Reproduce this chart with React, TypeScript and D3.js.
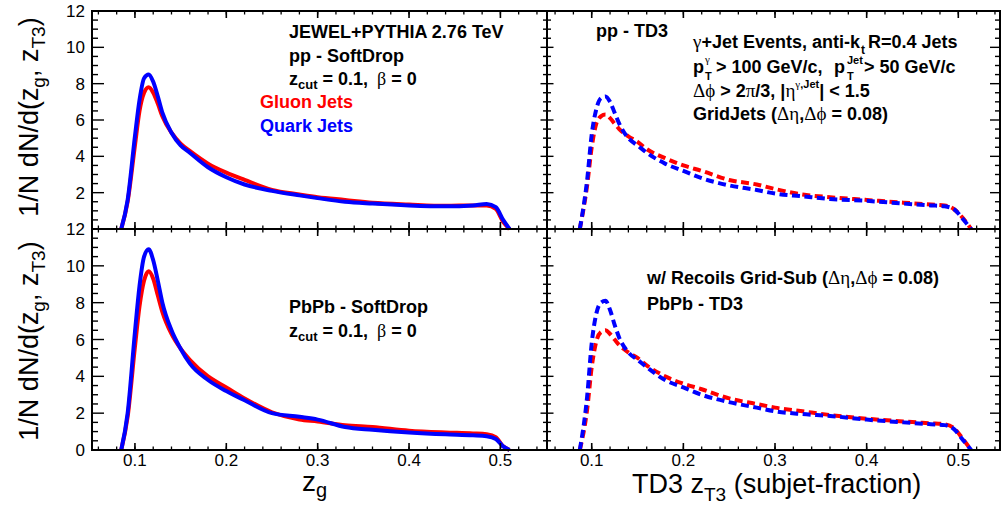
import React from "react";
import * as d3 from "d3";

// ---- data ----
const zgX = [0.085, 0.092, 0.1, 0.105, 0.11, 0.115, 0.12, 0.125, 0.13, 0.14, 0.15, 0.16, 0.18, 0.2, 0.22, 0.25, 0.28, 0.3, 0.33, 0.36, 0.4, 0.44, 0.47, 0.485, 0.495, 0.503, 0.51];
const ppSDGluon = [0, 1.5, 4.6, 6.5, 7.5, 7.8, 7.5, 6.9, 6.2, 5.3, 4.7, 4.3, 3.6, 3.1, 2.7, 2.15, 1.9, 1.75, 1.6, 1.45, 1.35, 1.28, 1.3, 1.3, 1.1, 0.4, 0];
const ppSDQuark = [0, 1.6, 5.1, 7.1, 8.3, 8.5, 8.1, 7.3, 6.4, 5.3, 4.6, 4.2, 3.4, 2.85, 2.45, 2.1, 1.85, 1.7, 1.5, 1.4, 1.3, 1.25, 1.3, 1.38, 1.2, 0.5, 0];
const pbSDGluon = [0, 1.8, 5.6, 7.8, 9.2, 9.7, 9.3, 8.4, 7.5, 6.3, 5.5, 4.9, 4.0, 3.4, 2.8, 2.05, 1.65, 1.55, 1.35, 1.25, 1.05, 0.95, 0.9, 0.85, 0.7, 0.2, 0];
const pbSDQuark = [0, 2.0, 6.4, 8.9, 10.5, 10.9, 10.3, 9.2, 8.0, 6.5, 5.5, 4.7, 3.8, 3.2, 2.7, 2.0, 1.8, 1.65, 1.25, 1.1, 0.95, 0.85, 0.8, 0.75, 0.6, 0.2, 0];

const td3X = [0.087, 0.095, 0.1, 0.105, 0.11, 0.115, 0.12, 0.125, 0.13, 0.14, 0.15, 0.16, 0.18, 0.2, 0.22, 0.25, 0.28, 0.3, 0.33, 0.36, 0.4, 0.44, 0.47, 0.485, 0.495, 0.505, 0.514];
const ppTD3Gluon = [0, 2.4, 4.5, 5.8, 6.2, 6.3, 6.1, 5.8, 5.5, 5.1, 4.8, 4.4, 3.9, 3.5, 3.2, 2.7, 2.45, 2.2, 1.9, 1.75, 1.6, 1.45, 1.35, 1.3, 1.1, 0.6, 0];
const ppTD3Quark = [0, 2.7, 5.2, 6.6, 7.2, 7.3, 7.0, 6.4, 5.8, 5.0, 4.6, 4.2, 3.6, 3.2, 2.8, 2.4, 2.15, 1.95, 1.8, 1.65, 1.55, 1.4, 1.3, 1.25, 1.1, 0.55, 0];
const pbTD3Gluon = [0, 2.2, 4.5, 5.9, 6.4, 6.5, 6.3, 6.0, 5.7, 5.3, 5.0, 4.6, 4.0, 3.6, 3.3, 2.8, 2.5, 2.3, 2.1, 1.9, 1.7, 1.55, 1.45, 1.4, 1.2, 0.6, 0];
const pbTD3Quark = [0, 2.9, 5.8, 7.4, 8.0, 8.1, 7.6, 6.8, 6.1, 5.3, 4.9, 4.5, 3.8, 3.4, 3.0, 2.6, 2.3, 2.1, 1.95, 1.85, 1.65, 1.5, 1.4, 1.35, 1.15, 0.55, 0];

const xMajorTicks = [0.1, 0.2, 0.3, 0.4, 0.5];
const yMajorTicks = [0, 2, 4, 6, 8, 10, 12];

const RED = "#ff0000";
const BLUE = "#0000ff";
const FONT = "'Liberation Sans', Arial, Helvetica, sans-serif";
const SYM = "'Liberation Serif', 'DejaVu Serif', serif";

const L = 92, M = 547, R = 1000, T = 11, MID = 229, B = 450;

type Panel = {
  x0: number; x1: number; y0: number; y1: number;
  dom: [number, number]; yDom: [number, number];
  xs: number[]; red: number[]; blue: number[]; dashed: boolean;
};

const panels: Panel[] = [
  { x0: L, x1: M, y0: T, y1: MID, dom: [0.053, 0.551], yDom: [0, 12], xs: zgX, red: ppSDGluon, blue: ppSDQuark, dashed: false },
  { x0: M, x1: R, y0: T, y1: MID, dom: [0.0512, 0.5455], yDom: [0, 12], xs: td3X, red: ppTD3Gluon, blue: ppTD3Quark, dashed: true },
  { x0: L, x1: M, y0: MID, y1: B, dom: [0.053, 0.551], yDom: [0, 12], xs: zgX, red: pbSDGluon, blue: pbSDQuark, dashed: false },
  { x0: M, x1: R, y0: MID, y1: B, dom: [0.0512, 0.5455], yDom: [0, 12], xs: td3X, red: pbTD3Gluon, blue: pbTD3Quark, dashed: true },
];

function PanelView({ p }: { p: Panel }) {
  const x = d3.scaleLinear().domain(p.dom).range([p.x0, p.x1]);
  const y = d3.scaleLinear().domain(p.yDom).range([p.y1, p.y0]);
  const line = d3.line<[number, number]>().x(d => x(d[0])).y(d => y(d[1])).curve(d3.curveMonotoneX);
  const redPts = p.xs.map((v, i) => [v, p.red[i]] as [number, number]);
  const bluePts = p.xs.map((v, i) => [v, p.blue[i]] as [number, number]);
  const minorX = d3.range(0.06, 0.5451, 0.02).filter(v => v > p.dom[0] && v < p.dom[1]);
  const minorY = d3.range(0, 12.01, 0.5);
  const isLeft = p.x0 === L;
  const isTop = p.y0 === T;
  const dash = p.dashed ? "8,4.5" : undefined;
  return (
    <g>
      <path d={line(redPts) || ""} fill="none" stroke={RED} strokeWidth={4} strokeDasharray={dash} />
      <path d={line(bluePts) || ""} fill="none" stroke={BLUE} strokeWidth={4} strokeDasharray={dash} />
      {minorX.map((v, i) => (
        <g key={"mx" + i}>
          <line x1={x(v)} x2={x(v)} y1={p.y1} y2={p.y1 - 3.5} stroke="#000" strokeWidth={1.3} />
          <line x1={x(v)} x2={x(v)} y1={p.y0} y2={p.y0 + 3.5} stroke="#000" strokeWidth={1.3} />
        </g>
      ))}
      {xMajorTicks.map((v, i) => (
        <g key={"Mx" + i}>
          <line x1={x(v)} x2={x(v)} y1={p.y1} y2={p.y1 - 7} stroke="#000" strokeWidth={1.6} />
          <line x1={x(v)} x2={x(v)} y1={p.y0} y2={p.y0 + 7} stroke="#000" strokeWidth={1.6} />
        </g>
      ))}
      {minorY.map((v, i) => {
        const major = v % 2 === 0;
        const lenL = isLeft ? (major ? 12 : 6) : (major ? 6.5 : 4);
        const lenR = isLeft ? (major ? 6.5 : 4) : (major ? 10 : 5);
        return (
          <g key={"my" + i}>
            <line x1={p.x0} x2={p.x0 + lenL} y1={y(v)} y2={y(v)} stroke="#000" strokeWidth={1.4} />
            <line x1={p.x1} x2={p.x1 - lenR} y1={y(v)} y2={y(v)} stroke="#000" strokeWidth={1.4} />
          </g>
        );
      })}
      {isLeft && yMajorTicks.filter(v => !(isTop && v === 0)).map((v, i) => (
        <text key={"yl" + i} x={85} y={y(v)} dy="0.36em" textAnchor="end" fontSize={17} fontFamily={FONT}>{v}</text>
      ))}
      {!isTop && xMajorTicks.map((v, i) => (
        <text key={"xl" + i} x={x(v)} y={466} textAnchor="middle" fontSize={17} fontFamily={FONT}>{v.toFixed(1)}</text>
      ))}
      <rect x={p.x0} y={p.y0} width={p.x1 - p.x0} height={p.y1 - p.y0} fill="none" stroke="#000" strokeWidth={2} />
    </g>
  );
}

export default function App() {
  const yTitle = (cy: number) => (
    <text transform={`translate(38,${cy}) rotate(-90)`} textAnchor="middle" fontSize={27} fontFamily={FONT}>
      1/N dN/d(z<tspan fontSize={19} dy={7}>g</tspan><tspan dy={-7}>, z</tspan><tspan fontSize={19} dy={7}>T3</tspan><tspan dy={-7}>)</tspan>
    </text>
  );
  const b = { fontFamily: FONT, fontWeight: 700, fontSize: 18 } as const;
  const sym = { fontFamily: SYM, fontWeight: 400 } as const;
  return (
    <svg width={1001} height={506} style={{ position: "absolute", left: 0, top: 0, background: "#fff" }}>
      <rect x={0} y={0} width={1001} height={506} fill="#fff" />
      {panels.map((p, i) => <PanelView key={i} p={p} />)}

      {yTitle(117)}
      {yTitle(341)}

      <text x={302} y={491} fontSize={28} fontFamily={FONT}>z<tspan fontSize={20} dy={6}>g</tspan></text>
      <text x={632} y={493} fontSize={27} fontFamily={FONT}>TD3 z<tspan fontSize={19} dy={8}>T3</tspan><tspan dy={-8}> (subjet-fraction)</tspan></text>

      {/* top-left annotations */}
      <text x={289} y={38} {...b}>JEWEL+PYTHIA 2.76 TeV</text>
      <text x={289} y={62} {...b}>pp - SoftDrop</text>
      <text x={289} y={85} {...b}>z<tspan fontSize={13} dy={4}>cut</tspan><tspan dy={-4}> = 0.1,</tspan><tspan {...sym} dx={9}>β</tspan> = 0</text>
      <text x={260} y={108} {...b} fill={RED}>Gluon Jets</text>
      <text x={260} y={132} {...b} fill={BLUE}>Quark Jets</text>

      {/* top-right annotations */}
      <text x={596} y={37} {...b}>pp - TD3</text>
      <text x={693} y={48} {...b}><tspan {...sym} fontSize={19}>γ</tspan>+Jet Events, anti-k<tspan fontSize={12} dy={6} dx={1}>t</tspan><tspan dy={-6} dx={3}>R=0.4 Jets</tspan></text>

      <text x={693} y={73} {...b}>p</text>
      <text x={705} y={63} {...sym} fontSize={11}>γ</text>
      <text x={705} y={80} {...b} fontSize={11}>T</text>
      <text x={716} y={73} {...b}>&gt; 100 GeV/c,</text>
      <text x={834} y={73} {...b}>p</text>
      <text x={847} y={64} {...b} fontSize={11}>Jet</text>
      <text x={847} y={80} {...b} fontSize={11}>T</text>
      <text x={864} y={73} {...b}>&gt; 50 GeV/c</text>

      <text x={693} y={97} {...b}><tspan {...sym} fontSize={19}>Δϕ</tspan> &gt; 2<tspan {...sym} fontSize={19}>π</tspan>/3, |<tspan {...sym} fontSize={19}>η</tspan><tspan fontSize={11} dy={-9}><tspan {...sym}>γ</tspan>,Jet</tspan><tspan dy={9}>| &lt; 1.5</tspan></text>

      <text x={693} y={120} {...b}>GridJets (<tspan {...sym} fontSize={19}>Δη</tspan>,<tspan {...sym} fontSize={19}>Δϕ</tspan> = 0.08)</text>

      {/* bottom-left annotations */}
      <text x={289} y={313} {...b}>PbPb - SoftDrop</text>
      <text x={289} y={337} {...b}>z<tspan fontSize={13} dy={4}>cut</tspan><tspan dy={-4}> = 0.1,</tspan><tspan {...sym} dx={9}>β</tspan> = 0</text>

      {/* bottom-right annotations */}
      <text x={647} y={284} {...b}>w/ Recoils Grid-Sub (<tspan {...sym} fontSize={19}>Δη</tspan>,<tspan {...sym} fontSize={19}>Δϕ</tspan> = 0.08)</text>
      <text x={647} y={310} {...b}>PbPb - TD3</text>
    </svg>
  );
}
